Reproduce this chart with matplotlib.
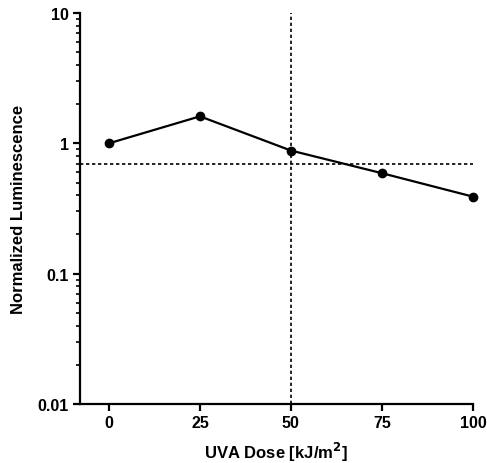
import matplotlib
matplotlib.use("Agg")
import matplotlib.pyplot as plt
from matplotlib.ticker import FixedLocator, LogLocator, NullFormatter

# data
dose = [0, 25, 50, 75, 100]
lum = [1.0, 1.61, 0.88, 0.59, 0.39]
h_ref = 0.70
v_ref = 50

x_ticks = [0, 25, 50, 75, 100]
y_ticks = [0.01, 0.1, 1, 10]
y_labels = ['0.01', '0.1', '1', '10']

plt.rcParams['font.family'] = ['Liberation Sans', 'DejaVu Sans']

fig = plt.figure(figsize=(4.87, 4.64), dpi=100)
ax = fig.add_axes([0.164, 0.127, 0.807, 0.843])

ax.set_yscale('log')
ax.set_xlim(-8, 100)
ax.set_ylim(0.01, 10)

# reference lines
ax.axhline(h_ref, color='black', lw=1.2, ls=(0, (2, 1.6)), zorder=1)
ax.axvline(v_ref, color='black', lw=1.2, ls=(0, (2, 1.6)), zorder=1)

ax.plot(dose, lum, color='black', lw=1.6, marker='o', markersize=6, zorder=3,
        clip_on=False)

# axes styling
for s in ['top', 'right']:
    ax.spines[s].set_visible(False)
for s in ['left', 'bottom']:
    ax.spines[s].set_linewidth(1.6)

ax.xaxis.set_major_locator(FixedLocator(x_ticks))
ax.set_xticklabels([str(t) for t in x_ticks], fontsize=11.5, fontweight='bold')
ax.yaxis.set_major_locator(FixedLocator(y_ticks))
ax.set_yticklabels(y_labels, fontsize=11.5, fontweight='bold')
ax.yaxis.set_minor_locator(LogLocator(base=10, subs=range(2, 10)))
ax.yaxis.set_minor_formatter(NullFormatter())

ax.tick_params(axis='both', which='major', direction='out', length=5, width=1.6, pad=3)
ax.tick_params(axis='y', which='minor', direction='out', length=3, width=1.2)

ax.set_xlabel('UVA Dose [kJ/m$^\\mathbf{2}$]', fontsize=12, fontweight='bold', labelpad=7)
ax.set_ylabel('Normalized Luminescence', fontsize=12, fontweight='bold', labelpad=8)

fig.savefig('out.png', dpi=100)
